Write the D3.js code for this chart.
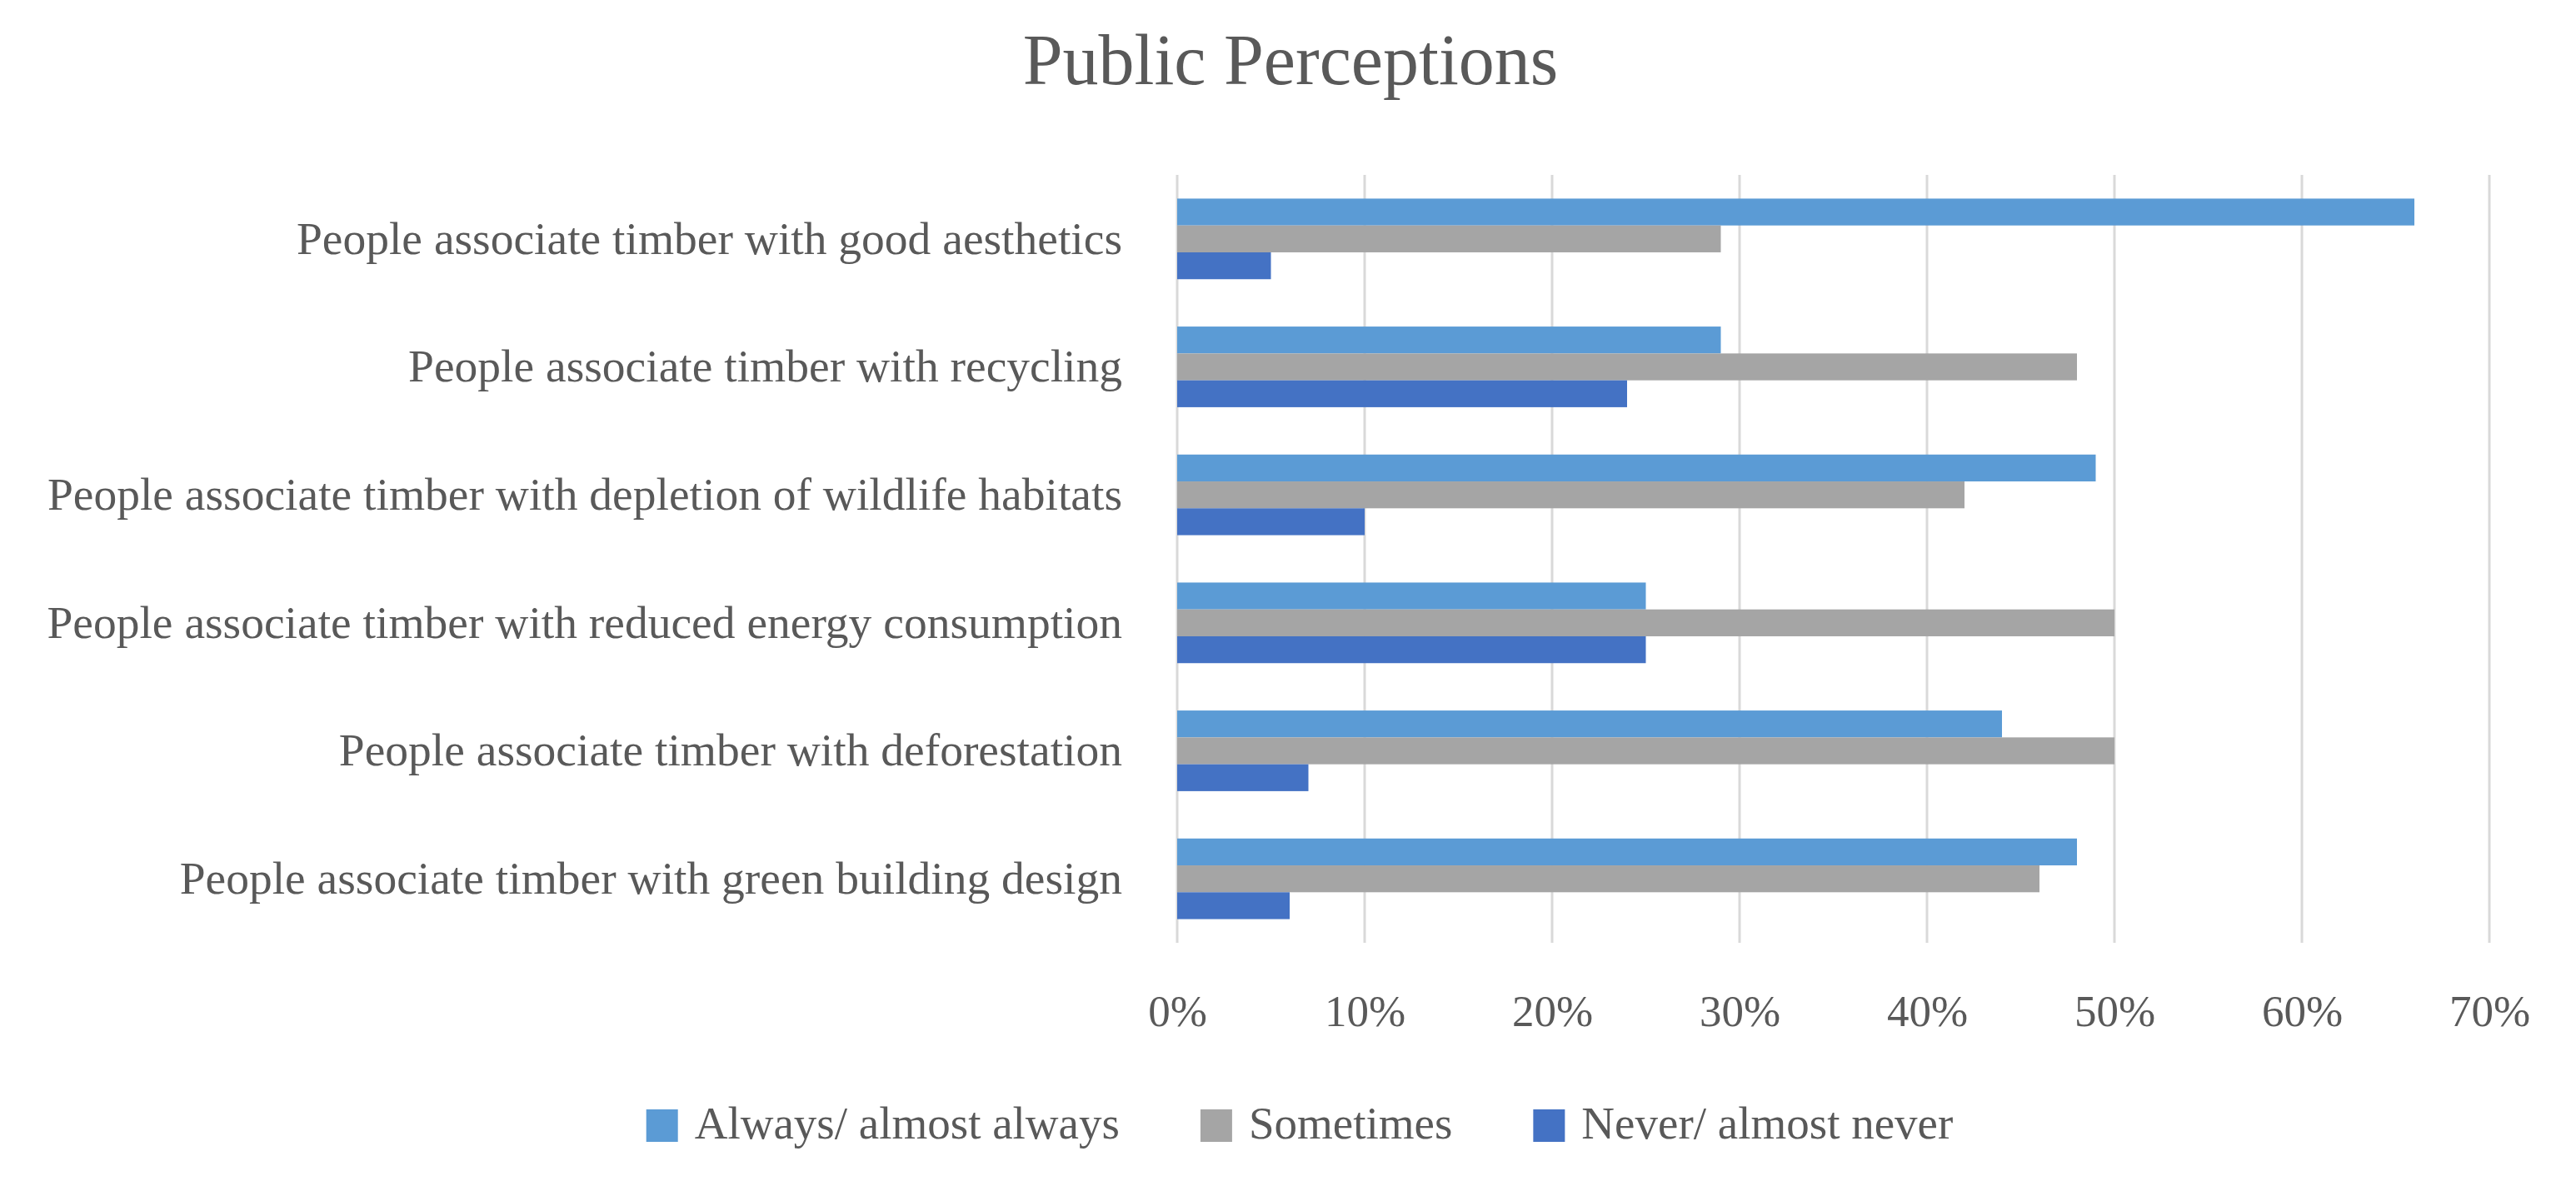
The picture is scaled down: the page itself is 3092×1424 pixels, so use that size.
<!DOCTYPE html>
<html>
<head>
<meta charset="utf-8">
<script src="https://cdn.jsdelivr.net/npm/d3@7/dist/d3.min.js"></script>
<style>
  html, body { margin: 0; padding: 0; background: #fff; }
  text { font-family: "Liberation Serif", "DejaVu Serif", serif; fill: #595959; }
</style>
</head>
<body>
<svg id="chart" width="3092" height="1424"></svg>
<script>
// Categories, top to bottom
var categories = [
	"People associate timber with good aesthetics",
	"People associate timber with recycling",
	"People associate timber with depletion of wildlife habitats",
	"People associate timber with reduced energy consumption",
	"People associate timber with deforestation",
	"People associate timber with green building design"
];

var seriesNames = ["Always/ almost always", "Sometimes", "Never/ almost never"];
var seriesColors = ["#5B9BD5", "#A5A5A5", "#4472C4"];

// Values in percent, same order as categories
var always = [66, 29, 49, 25, 44, 48];
var sometimes = [29, 48, 42, 50, 50, 46];
var never = [5, 24, 10, 25, 7, 6];

var xTicks = [0, 10, 20, 30, 40, 50, 60, 70];

var series = [always, sometimes, never];

var svg = d3.select("#chart");

// Scales
var x = d3.scaleLinear()
	.domain([0, 70])
	.range([1413, 2988]);

var y = d3.scaleBand()
	.domain(categories)
	.range([210, 1132])
	.paddingInner(0.37)
	.paddingOuter(0.185);

var ySub = d3.scaleBand()
	.domain(d3.range(seriesNames.length))
	.range([0, y.bandwidth()]);

// Title
svg.append("text")
	.attr("x", 1549)
	.attr("y", 101)
	.attr("text-anchor", "middle")
	.style("font-size", "86px")
	.text("Public Perceptions");

// Vertical gridlines
svg.append("g")
	.selectAll("line")
	.data(xTicks)
	.join("line")
	.attr("x1", function(d) { return x(d); })
	.attr("x2", function(d) { return x(d); })
	.attr("y1", 210)
	.attr("y2", 1132)
	.attr("stroke", "#D9D9D9")
	.attr("stroke-width", 3);

// Bars
var groups = svg.append("g")
	.selectAll("g")
	.data(categories)
	.join("g")
	.attr("transform", function(d) { return "translate(0," + y(d) + ")"; });

groups.selectAll("rect")
	.data(function(d, i) {
		return series.map(function(s, k) { return { k: k, v: s[i] }; });
	})
	.join("rect")
	.attr("x", x(0))
	.attr("y", function(d) { return ySub(d.k); })
	.attr("width", function(d) { return x(d.v) - x(0); })
	.attr("height", ySub.bandwidth())
	.attr("fill", function(d) { return seriesColors[d.k]; });

// Category axis (labels only)
var yAxis = svg.append("g")
	.attr("transform", "translate(" + (x(0) - 66) + ",0)")
	.call(d3.axisLeft(y).tickSize(0).tickPadding(0));
yAxis.select(".domain").remove();
yAxis.selectAll("text")
	.attr("dy", "0.32em")
	.style("font-size", "55.5px")
	.style("font-family", "'Liberation Serif', serif")
	.attr("fill", "#595959");

// Value axis (labels only)
var xAxis = svg.append("g")
	.attr("transform", "translate(0,1182)")
	.call(d3.axisBottom(x)
		.tickValues(xTicks)
		.tickFormat(function(d) { return d + "%"; })
		.tickSize(0)
		.tickPadding(0));
xAxis.select(".domain").remove();
xAxis.selectAll("text")
	.attr("dy", "0.95em")
	.style("font-size", "53px")
	.style("font-family", "'Liberation Serif', serif")
	.attr("fill", "#595959");

// Legend
var legend = svg.append("g");
var items = legend.selectAll("g")
	.data(seriesNames)
	.join("g");

items.append("rect")
	.attr("x", 0)
	.attr("y", 1332)
	.attr("width", 38)
	.attr("height", 39)
	.attr("fill", function(d, i) { return seriesColors[i]; });

items.append("text")
	.attr("x", 58)
	.attr("y", 1367)
	.style("font-size", "55px")
	.text(function(d) { return d; });

// lay out legend items in a centered row
var offset = 0, positions = [];
items.each(function() {
	var w = 58 + d3.select(this).select("text").node().getComputedTextLength();
	positions.push(offset);
	offset += w + 97;
});
var total = offset - 97;
var start = 1560 - total / 2;
items.attr("transform", function(d, i) { return "translate(" + (start + positions[i]) + ",0)"; });
</script>
</body>
</html>
